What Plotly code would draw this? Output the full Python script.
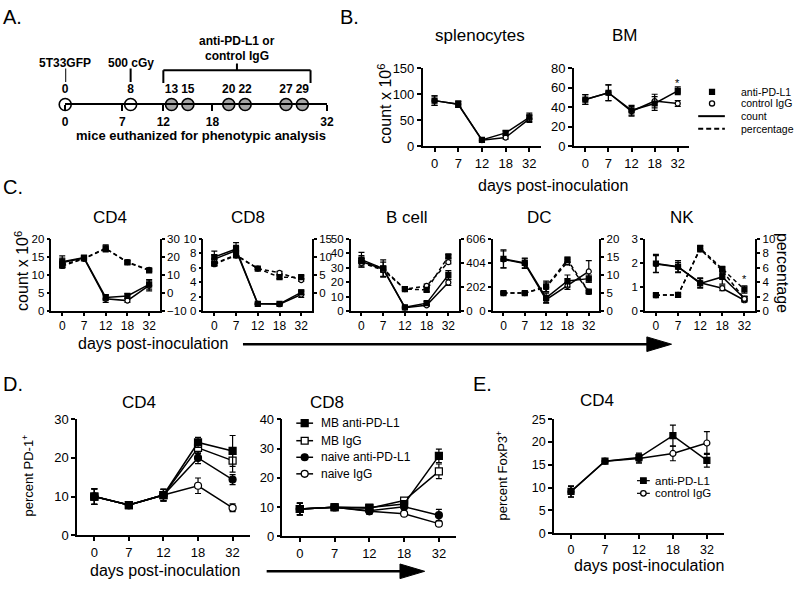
import plotly.graph_objects as go

# ---------------- data ----------------
days = ["0", "7", "12", "18", "32"]

# A: experimental schedule (days)
a_scale_days = [0, 7, 12, 18, 32]
a_event_days = [0, 8]
a_event_labels = ["5T33GFP", "500 cGy"]
a_analysis_days = [13, 15, 20, 22, 27, 29]
a_treatment_span = [12, 30]

# B: total counts (x10^6)
spl_anti = [88, 81, 12.5, 26, 56]
spl_anti_err = [9, 6, 2, 4, 8]
spl_igg = [88, 81, 12, 17, 53]
spl_igg_err = [9, 6, 2, 3, 7]
bm_anti = [48, 55, 37, 44, 57]
bm_anti_err = [5, 8, 5, 7, 4]
bm_igg = [48, 55, 36, 46.5, 44]
bm_igg_err = [5, 8, 5, 7, 3]

# C: counts (left axis) and percentages (right axis)
cd4_cnt_anti = [13.7, 14.8, 3.8, 4.2, 7.4]
cd4_cnt_anti_err = [1.6, 0.5, 0.8, 0.6, 1.3]
cd4_cnt_igg = [13.5, 14.7, 3.4, 2.9, 7.1]
cd4_cnt_igg_err = [1.2, 0.4, 1.0, 0.5, 1.5]
cd4_pct_anti = [15.6, 19.2, 24.8, 17.0, 12.6]
cd4_pct_anti_err = [1.5, 1.0, 2.0, 1.0, 0.8]
cd4_pct_igg = [15.0, 19.0, 24.6, 17.2, 12.8]
cd4_pct_igg_err = [1.2, 0.8, 1.5, 1.0, 0.8]

cd8_cnt_anti = [7.5, 8.6, 1.0, 1.0, 2.6]
cd8_cnt_anti_err = [0.8, 0.9, 0.1, 0.1, 0.3]
cd8_cnt_igg = [7.2, 8.4, 1.0, 0.95, 2.3]
cd8_cnt_igg_err = [0.6, 0.7, 0.1, 0.1, 0.4]
cd8_pct_anti = [8.2, 10.6, 6.8, 4.4, 4.4]
cd8_pct_anti_err = [0.6, 0.8, 0.3, 0.4, 0.4]
cd8_pct_igg = [8.0, 10.4, 6.8, 5.6, 3.6]
cd8_pct_igg_err = [0.5, 0.6, 0.3, 0.4, 0.4]

bc_cnt_anti = [35.7, 29.5, 2.6, 5.5, 25.1]
bc_cnt_anti_err = [5, 6, 0.5, 1, 3]
bc_cnt_igg = [34.4, 29.0, 2.4, 4.0, 19.8]
bc_cnt_igg_err = [4, 5, 0.5, 0.8, 2]
bc_pct_anti = [41.8, 35.4, 18.3, 17.7, 45.5]
bc_pct_anti_err = [2, 2, 1, 1.5, 1.5]
bc_pct_igg = [40.2, 34.1, 18.3, 20.9, 40.7]
bc_pct_igg_err = [2, 2, 1, 1.5, 1.5]

dc_cnt_anti = [4.35, 4.0, 1.1, 2.5, 2.7]
dc_cnt_anti_err = [0.75, 0.4, 0.4, 0.5, 0.3]
dc_cnt_igg = [4.3, 3.95, 0.95, 2.1, 3.3]
dc_cnt_igg_err = [0.7, 0.4, 0.3, 0.3, 0.9]
dc_pct_anti = [5.0, 5.0, 6.8, 14.2, 5.4]
dc_pct_anti_err = [0.3, 0.3, 1.5, 0.8, 0.4]
dc_pct_igg = [5.0, 5.0, 6.6, 13.6, 5.3]
dc_pct_igg_err = [0.3, 0.3, 1.2, 0.8, 0.4]

nk_cnt_anti = [1.98, 1.85, 1.15, 1.42, 0.52]
nk_cnt_anti_err = [0.38, 0.25, 0.2, 0.3, 0.08]
nk_cnt_igg = [1.96, 1.83, 1.18, 0.95, 0.45]
nk_cnt_igg_err = [0.35, 0.2, 0.2, 0.1, 0.08]
nk_pct_anti = [2.2, 2.25, 8.7, 5.8, 3.0]
nk_pct_anti_err = [0.2, 0.2, 0.4, 0.4, 0.5]
nk_pct_igg = [2.2, 2.25, 8.6, 5.6, 1.7]
nk_pct_igg_err = [0.2, 0.2, 0.4, 0.4, 0.3]

# D: percent PD-1+
d4_mb_anti = [10, 7.8, 10.4, 24, 21.8]
d4_mb_anti_err = [2, 0.5, 1.5, 1.3, 4]
d4_mb_igg = [10, 7.8, 10.4, 22.6, 19.3]
d4_mb_igg_err = [2, 0.5, 1.5, 1.5, 3]
d4_nv_anti = [10, 7.8, 10.4, 20, 14.4]
d4_nv_anti_err = [2, 0.5, 1.5, 1.5, 1.3]
d4_nv_igg = [10, 7.8, 10.4, 12.8, 7.1]
d4_nv_igg_err = [2, 0.5, 1.5, 2, 1]

d8_mb_anti = [9.3, 9.9, 9.8, 11, 27.5]
d8_mb_anti_err = [2, 0.4, 1, 1, 2.3]
d8_mb_igg = [9.3, 9.9, 9.6, 12.2, 22.2]
d8_mb_igg_err = [2, 0.4, 1, 1, 2.5]
d8_nv_anti = [9.3, 9.9, 8.7, 10.1, 7.2]
d8_nv_anti_err = [2, 0.4, 1, 1, 2]
d8_nv_igg = [9.3, 9.9, 8.5, 7.7, 4.3]
d8_nv_igg_err = [2, 0.4, 1, 0.6, 0.7]

# E: percent FoxP3+
e_anti = [9.2, 15.8, 16.6, 21.4, 16.0]
e_anti_err = [1.2, 0.3, 1.0, 2.3, 1.5]
e_igg = [9.1, 15.8, 16.4, 17.5, 19.8]
e_igg_err = [1.2, 0.3, 1.0, 1.6, 2.5]

# legend labels
b_legend_labels = ["anti-PD-L1", "control IgG", "count", "percentage"]
d_legend_labels = ["MB anti-PD-L1", "MB IgG", "naive anti-PD-L1", "naive IgG"]
e_legend_labels = ["anti-PD-L1", "control IgG"]

# ---------------- helpers ----------------
W, H = 800, 591
FONT = "Liberation Sans, Arial, Helvetica, sans-serif"


def X(px):
    return px / W


def Y(py):
    return 1 - py / H


def xd(a, b):
    return [a / W, b / W]


def yd(top, bottom):
    return [1 - bottom / H, 1 - top / H]


fig = go.Figure()
layout = {}
annotations = []
shapes = []


def cat_x(name, left, right, anchor, fs=13, tl=4):
    layout[name] = dict(domain=xd(left, right), anchor=anchor, type="category",
                        categoryorder="array", categoryarray=days, range=[-0.5, 4.5],
                        showline=True, linecolor="black", linewidth=1.5, ticks="outside",
                        ticklen=tl, tickwidth=1.5, tickcolor="black", showgrid=False,
                        zeroline=False, tickfont=dict(family=FONT, size=fs, color="black"))


def lin_y(name, top, bottom, anchor, rng, tickvals, side="left", overlaying=None, fs=13, tl=4):
    d = dict(anchor=anchor, range=rng, tickvals=tickvals, side=side,
             showline=True, linecolor="black", linewidth=1.5, ticks="outside",
             ticklen=tl, tickwidth=1.5, tickcolor="black", showgrid=False,
             zeroline=False, tickfont=dict(family=FONT, size=fs, color="black"))
    if overlaying:
        d["overlaying"] = overlaying
    else:
        d["domain"] = yd(top, bottom)
    layout[name] = d


def series(xa, ya, y, err, symbol="square", fill="black", dash="solid", size=6):
    fig.add_trace(go.Scatter(
        x=days, y=y, xaxis=xa, yaxis=ya, mode="lines+markers",
        line=dict(color="black", width=1.5, dash=dash),
        marker=dict(symbol=symbol, size=size, color=fill, line=dict(color="black", width=1.2)),
        error_y=dict(type="data", array=err, visible=True, color="black", thickness=1.2, width=3),
        showlegend=False, cliponaxis=False, hoverinfo="skip"))


def text(x, y, s, size=16, angle=0, bold=False, xanchor="center"):
    if bold:
        s = "<b>" + s + "</b>"
    annotations.append(dict(x=X(x), y=Y(y), xref="paper", yref="paper", text=s,
                            showarrow=False, xanchor=xanchor, yanchor="middle",
                            textangle=angle, font=dict(family=FONT, size=size, color="black")))


def pline(x0, y0, x1, y1, width=1.5, dash="solid"):
    shapes.append(dict(type="line", xref="paper", yref="paper", x0=X(x0), x1=X(x1),
                       y0=Y(y0), y1=Y(y1), line=dict(color="black", width=width, dash=dash)))


def glyph(kind, cx, cy, r, fill):
    shapes.append(dict(type="rect" if kind == "square" else "circle", xref="paper", yref="paper",
                       x0=X(cx - r), x1=X(cx + r), y0=Y(cy + r), y1=Y(cy - r),
                       fillcolor=fill, line=dict(color="black", width=1.3)))


def arrow(x0, x1, y):
    pline(x0, y, x1 - 20, y, width=2.6)
    path = "M {} {} L {} {} L {} {} Z".format(X(x1 - 25), Y(y - 7.5), X(x1), Y(y), X(x1 - 25), Y(y + 7.5))
    shapes.append(dict(type="path", xref="paper", yref="paper", path=path,
                       fillcolor="black", line=dict(color="black", width=1)))


# ---------------- Panel A: schedule ----------------
layout["xaxis"] = dict(domain=xd(63, 328), range=[0, 32], anchor="free", position=Y(100),
                       showline=True, linecolor="black", linewidth=2, ticks="outside",
                       ticklen=6, tickwidth=2, tickcolor="black", showgrid=False, zeroline=False,
                       tickvals=a_scale_days, ticktext=["<b>%d</b>" % d for d in a_scale_days],
                       tickfont=dict(family=FONT, size=12, color="black"))
layout["yaxis"] = dict(domain=yd(0, 140), range=[-40, 100], visible=False)

fig.add_trace(go.Scatter(x=a_event_days, y=[0] * len(a_event_days), xaxis="x", yaxis="y",
                         mode="markers+text", text=["<b>%d</b>" % d for d in a_event_days],
                         textposition="top center",
                         textfont=dict(family=FONT, size=12, color="black"),
                         marker=dict(symbol="circle", size=12, color="white",
                                     line=dict(color="black", width=1.6)),
                         showlegend=False, cliponaxis=False, hoverinfo="skip"))
fig.add_trace(go.Scatter(x=a_analysis_days, y=[0] * len(a_analysis_days), xaxis="x", yaxis="y",
                         mode="markers+text", text=["<b>%d</b>" % d for d in a_analysis_days],
                         textposition="top center",
                         textfont=dict(family=FONT, size=12, color="black"),
                         marker=dict(symbol="circle", size=12, color="#a6a6a6",
                                     line=dict(color="black", width=1.6)),
                         showlegend=False, cliponaxis=False, hoverinfo="skip"))

for d, lab in zip(a_event_days, a_event_labels):
    shapes.append(dict(type="line", xref="x", yref="y", x0=d, x1=d, y0=23, y1=37,
                       line=dict(color="black", width=2)))
    annotations.append(dict(x=d, y=43, xref="x", yref="y", text="<b>" + lab + "</b>",
                            showarrow=False, xanchor="center", yanchor="middle",
                            font=dict(family=FONT, size=12, color="black")))

t0, t1 = a_treatment_span
mid = (t0 + t1) / 2
for (xa, ya, xb, yb) in [(t0, 35, t1, 35), (t0, 22, t0, 35), (t1, 22, t1, 35), (mid, 35, mid, 42)]:
    shapes.append(dict(type="line", xref="x", yref="y", x0=xa, x1=xb, y0=ya, y1=yb,
                       line=dict(color="black", width=2)))
annotations.append(dict(x=mid, y=65, xref="x", yref="y", text="<b>anti-PD-L1 or</b>",
                        showarrow=False, font=dict(family=FONT, size=12, color="black")))
annotations.append(dict(x=mid, y=50, xref="x", yref="y", text="<b>control IgG</b>",
                        showarrow=False, font=dict(family=FONT, size=12, color="black")))
text(200, 132, "mice euthanized for phenotypic analysis", size=13, bold=True)

# ---------------- Panel B ----------------
cat_x("xaxis2", 425, 545, "y2")
lin_y("yaxis2", 63, 143, "x2", [0, 150], [0, 50, 100, 150])
series("x2", "y2", spl_igg, spl_igg_err, "circle", "white", size=5)
series("x2", "y2", spl_anti, spl_anti_err, "square", "black", size=5)

cat_x("xaxis3", 578, 695, "y3")
lin_y("yaxis3", 63, 143, "x3", [0, 80], [0, 20, 40, 60, 80])
series("x3", "y3", bm_igg, bm_igg_err, "circle", "white", size=5)
series("x3", "y3", bm_anti, bm_anti_err, "square", "black", size=5)
annotations.append(dict(x=4, y=65, xref="x3", yref="y3", text="*", showarrow=False,
                        font=dict(family=FONT, size=11, color="black")))

text(483, 29, "splenocytes", size=17)
text(630, 29, "BM", size=17)
text(387, 99, "count x 10<sup>6</sup>", size=16, angle=-90)
text(557, 183, "days post-inoculation", size=16)

# B legend (drawn)
b_rows = [87, 99, 112, 125]
glyph("square", 718, b_rows[0], 2.5, "black")
glyph("circle", 718, b_rows[1], 2.6, "white")
pline(704, b_rows[2], 731, b_rows[2], width=2)
pline(704, b_rows[3], 731, b_rows[3], width=2, dash="5px,3px")
for lab, ry in zip(b_legend_labels, b_rows):
    text(745, ry, lab, size=10.5, xanchor="left")

# ---------------- Panel C ----------------
c_panels = [
    ("CD4", 49, 159, 108, [0, 20], [0, 5, 10, 15, 20], [-10, 30], [-10, 0, 10, 20, 30],
     cd4_cnt_anti, cd4_cnt_anti_err, cd4_cnt_igg, cd4_cnt_igg_err,
     cd4_pct_anti, cd4_pct_anti_err, cd4_pct_igg, cd4_pct_igg_err),
    ("CD8", 203, 313, 248, [0, 10], [0, 2, 4, 6, 8, 10], [-5, 15], [0, 5, 10, 15],
     cd8_cnt_anti, cd8_cnt_anti_err, cd8_cnt_igg, cd8_cnt_igg_err,
     cd8_pct_anti, cd8_pct_anti_err, cd8_pct_igg, cd8_pct_igg_err),
    ("B cell", 352, 462, 409, [0, 50], [0, 10, 20, 30, 40, 50], [0, 60], [0, 20, 40, 60],
     bc_cnt_anti, bc_cnt_anti_err, bc_cnt_igg, bc_cnt_igg_err,
     bc_pct_anti, bc_pct_anti_err, bc_pct_igg, bc_pct_igg_err),
    ("DC", 496, 604, 543, [0, 6], [0, 2, 4, 6], [0, 20], [0, 5, 10, 15, 20],
     dc_cnt_anti, dc_cnt_anti_err, dc_cnt_igg, dc_cnt_igg_err,
     dc_pct_anti, dc_pct_anti_err, dc_pct_igg, dc_pct_igg_err),
    ("NK", 650, 762, 688, [0, 3], [0, 1, 2, 3], [0, 10], [0, 2, 4, 6, 8, 10],
     nk_cnt_anti, nk_cnt_anti_err, nk_cnt_igg, nk_cnt_igg_err,
     nk_pct_anti, nk_pct_anti_err, nk_pct_igg, nk_pct_igg_err),
]
for i, p in enumerate(c_panels):
    (title, left, right, tx, lr, lt, rr, rt, ca, cae, ci, cie, pa, pae, pi, pie) = p
    xn = 4 + i
    yl = 4 + i
    yr = 9 + i
    cat_x("xaxis%d" % xn, left, right, "y%d" % yl, fs=12, tl=3)
    lin_y("yaxis%d" % yl, 238, 312, "x%d" % xn, lr, lt, fs=11.5, tl=3)
    lin_y("yaxis%d" % yr, 238, 312, "x%d" % xn, rr, rt, side="right",
          overlaying="y%d" % yl, fs=11.5, tl=3)
    series("x%d" % xn, "y%d" % yr, pi, pie, "circle", "white", dash="4px,3px", size=5)
    series("x%d" % xn, "y%d" % yr, pa, pae, "square", "black", dash="4px,3px", size=5)
    series("x%d" % xn, "y%d" % yl, ci, cie, "circle", "white", size=5)
    series("x%d" % xn, "y%d" % yl, ca, cae, "square", "black", size=5)
    text(tx, 216, title, size=17)

annotations.append(dict(x=4, y=4.4, xref="x8", yref="y13", text="*", showarrow=False,
                        font=dict(family=FONT, size=11, color="black")))
text(19, 271, "count x 10<sup>6</sup>", size=16, angle=-90)
text(790, 273, "percentage", size=16, angle=90)
text(152, 345, "days post-inoculation", size=16)
arrow(243, 677, 346)

# ---------------- Panel D ----------------
cat_x("xaxis9", 75, 250, "y14")
lin_y("yaxis14", 423, 542, "x9", [0, 30], [0, 10, 20, 30])
series("x9", "y14", d4_nv_igg, d4_nv_igg_err, "circle", "white", size=7)
series("x9", "y14", d4_nv_anti, d4_nv_anti_err, "circle", "black", size=7)
series("x9", "y14", d4_mb_igg, d4_mb_igg_err, "square", "white", size=7)
series("x9", "y14", d4_mb_anti, d4_mb_anti_err, "square", "black", size=7)

cat_x("xaxis10", 283, 459, "y15")
lin_y("yaxis15", 423, 543, "x10", [0, 40], [0, 10, 20, 30, 40])
series("x10", "y15", d8_nv_igg, d8_nv_igg_err, "circle", "white", size=7)
series("x10", "y15", d8_nv_anti, d8_nv_anti_err, "circle", "black", size=7)
series("x10", "y15", d8_mb_igg, d8_mb_igg_err, "square", "white", size=7)
series("x10", "y15", d8_mb_anti, d8_mb_anti_err, "square", "black", size=7)

d_rows = [427, 445, 462, 479]
d_glyphs = [("square", "black"), ("square", "white"), ("circle", "black"), ("circle", "white")]
for (kind, fill), ry, lab in zip(d_glyphs, d_rows, d_legend_labels):
    pline(297, ry, 314, ry, width=1.5)
    glyph(kind, 305.5, ry, 3.5, fill)
    text(320, ry, lab, size=12, xanchor="left")

text(138, 406, "CD4", size=17)
text(328, 406, "CD8", size=17)
text(25, 481, "percent PD-1<sup>+</sup>", size=13, angle=-90)
text(164, 578, "days post-inoculation", size=16)
arrow(267, 427, 579)

# ---------------- Panel E ----------------
cat_x("xaxis11", 558, 730, "y16", fs=12.5)
lin_y("yaxis16", 423, 540, "x11", [0, 25], [0, 5, 10, 15, 20, 25], fs=12.5)
series("x11", "y16", e_igg, e_igg_err, "circle", "white", size=6)
series("x11", "y16", e_anti, e_anti_err, "square", "black", size=6)

e_rows = [486, 499]
e_glyphs = [("square", "black"), ("circle", "white")]
for (kind, fill), ry, lab in zip(e_glyphs, e_rows, e_legend_labels):
    pline(642, ry, 655, ry, width=1.2)
    glyph(kind, 648.5, ry, 2.8, fill)
    text(658, ry, lab, size=11.5, xanchor="left")

text(602, 404, "CD4", size=17)
text(505, 481, "percent FoxP3<sup>+</sup>", size=13, angle=-90)
text(654, 573, "days post-inoculation", size=16)

# ---------------- panel letters ----------------
for lab, x, y in [("A.", 10, 10), ("B.", 351, 10), ("C.", 10, 185), ("D.", 10, 387), ("E.", 486, 387)]:
    text(x, y, lab, size=20)

fig.update_layout(width=W, height=H, margin=dict(l=0, r=0, t=0, b=0),
                  paper_bgcolor="white", plot_bgcolor="rgba(0,0,0,0)",
                  font=dict(family=FONT, color="black"), showlegend=False,
                  annotations=annotations, shapes=shapes, **layout)

fig.write_html("out.html", config={"displayModeBar": False},
               post_script="document.body.style.margin='0px';")
